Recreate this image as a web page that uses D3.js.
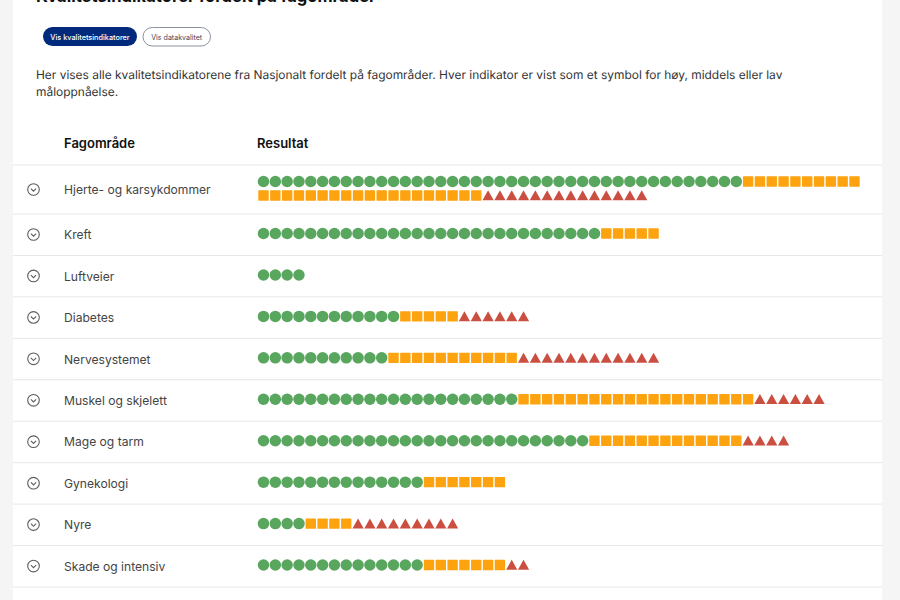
<!DOCTYPE html>
<html>
<head>
<meta charset="utf-8">
<script src="https://cdn.jsdelivr.net/npm/d3@7"></script>
<style>
  html, body { margin: 0; padding: 0; background: #f5f5f5; overflow: hidden; }
  text { font-family: Inter, "Noto Sans", sans-serif; }
  .intro { text-rendering: geometricPrecision; }
</style>
</head>
<body>
<div id="chart"></div>
<script>
(function() {
  'use strict';

  var fagomrader = ['Hjerte- og karsykdommer', 'Kreft', 'Luftveier', 'Diabetes', 'Nervesystemet',
    'Muskel og skjelett', 'Mage og tarm', 'Gynekologi', 'Nyre', 'Skade og intensiv'];
  var hoy = [41, 29, 4, 12, 11, 22, 28, 14, 4, 14];
  var middels = [29, 5, 0, 5, 11, 20, 13, 7, 4, 7];
  var lav = [14, 0, 0, 6, 12, 6, 4, 0, 9, 2];

  var title = 'Kvalitetsindikatorer fordelt på fagområder';
  var buttonLabels = ['Vis kvalitetsindikatorer', 'Vis datakvalitet'];
  var introLines = [
    'Her vises alle kvalitetsindikatorene fra Nasjonalt fordelt på fagområder. Hver indikator er vist som et symbol for høy, middels eller lav',
    'måloppnåelse.'
  ];
  var headers = ['Fagområde', 'Resultat'];

  var width = 900, height = 600;
  var perLine = 51;
  var colors = { hoy: '#59a65f', middels: '#fca30f', lav: '#cb4f41' };

  var svg = d3.select('#chart').append('svg').attr('width', width).attr('height', height);

  // white card
  svg.append('rect').attr('x', 13).attr('y', 0).attr('width', 869).attr('height', height).attr('fill', '#fff');

  svg.append('text').attr('x', 36).attr('y', 2).attr('font-size', 16.6).attr('font-weight', 700)
    .attr('fill', '#111').text(title);

  // toggle buttons
  svg.append('rect').attr('x', 43).attr('y', 27).attr('width', 94).attr('height', 19).attr('rx', 9.5).attr('fill', '#012a7c');
  svg.append('text').attr('x', 90).attr('y', 39.5).attr('text-anchor', 'middle').attr('font-size', 7.3)
    .attr('font-weight', 500).attr('fill', '#fff').text(buttonLabels[0]);
  svg.append('rect').attr('x', 143).attr('y', 27.5).attr('width', 67.5).attr('height', 18.5).attr('rx', 9.25)
    .attr('fill', '#fff').attr('stroke', '#6f7785').attr('stroke-width', 0.8);
  svg.append('text').attr('x', 176.7).attr('y', 39.5).attr('text-anchor', 'middle').attr('font-size', 7.1)
    .attr('fill', '#3a4660').text(buttonLabels[1]);

  svg.selectAll('.intro').data(introLines).enter().append('text').attr('class', 'intro')
    .attr('x', 36).attr('y', function(d, i) { return 79 + i * 17; })
    .attr('font-size', 11.95).attr('fill', '#333').text(function(d) { return d; });

  svg.selectAll('.head').data(headers).enter().append('text').attr('class', 'head')
    .attr('x', function(d, i) { return i ? 257 : 64; }).attr('y', 148)
    .attr('font-size', 13).attr('font-weight', 600).attr('fill', '#111').text(function(d) { return d; });

  // rows: the first one wraps on two lines, the others share the same height
  var rowY = d3.scaleLinear().domain([1, 10]).range([214, 587]);
  function rowTop(i) { return i === 0 ? 165 : rowY(i); }

  var sep = d3.range(0, 11);
  svg.selectAll('.sep').data(sep).enter().append('line').attr('class', 'sep')
    .attr('x1', 13).attr('x2', 882)
    .attr('y1', function(d) { return rowTop(d); }).attr('y2', function(d) { return rowTop(d); })
    .attr('stroke', '#e6e6e8');

  var x = d3.scaleLinear().domain([0, perLine]).range([258, 258 + perLine * 11.82]);

  var symCircle = d3.symbol().type(d3.symbolCircle).size(Math.PI * 5.75 * 5.75)();
  var square = 'M-4.6,-5.2H4.6Q5.2,-5.2 5.2,-4.6V4.6Q5.2,5.2 4.6,5.2H-4.6Q-5.2,5.2 -5.2,4.6V-4.6Q-5.2,-5.2 -4.6,-5.2Z';
  var triangle = 'M0,-5.2L5.6,4.8L-5.6,4.8Z';

  fagomrader.forEach(function(name, i) {
    var top = rowTop(i);
    var mid = i === 0 ? top + 24.5 : top + 20.5;
    var g = svg.append('g').attr('class', 'row');

    // expand icon
    var icon = g.append('g').attr('transform', 'translate(33.5,' + mid + ')');
    icon.append('circle').attr('r', 5.8).attr('fill', 'none').attr('stroke', '#5a5f63').attr('stroke-width', 1.1);
    icon.append('path').attr('d', 'M-2.6,-0.9L0,1.7L2.6,-0.9').attr('fill', 'none')
      .attr('stroke', '#5a5f63').attr('stroke-width', 1.1);

    g.append('text').attr('x', 64).attr('y', mid + 4.7).attr('font-size', 12.1).attr('fill', '#444').text(name);

    var items = [];
    d3.range(hoy[i]).forEach(function() { items.push('hoy'); });
    d3.range(middels[i]).forEach(function() { items.push('middels'); });
    d3.range(lav[i]).forEach(function() { items.push('lav'); });

    var firstLine = i === 0 ? top + 16.5 : mid - 1;
    g.selectAll('.mark').data(items).enter().append('path').attr('class', 'mark')
      .attr('transform', function(d, k) {
        var col = k % perLine, line = Math.floor(k / perLine);
        return 'translate(' + (x(col) + 5.5) + ',' + (firstLine + line * 14) + ')';
      })
      .attr('d', function(d) {
        if (d === 'hoy') return symCircle;
        if (d === 'middels') return square;
        return triangle;
      })
      .attr('fill', function(d) { return colors[d]; });
  });
})();
</script>
</body>
</html>
